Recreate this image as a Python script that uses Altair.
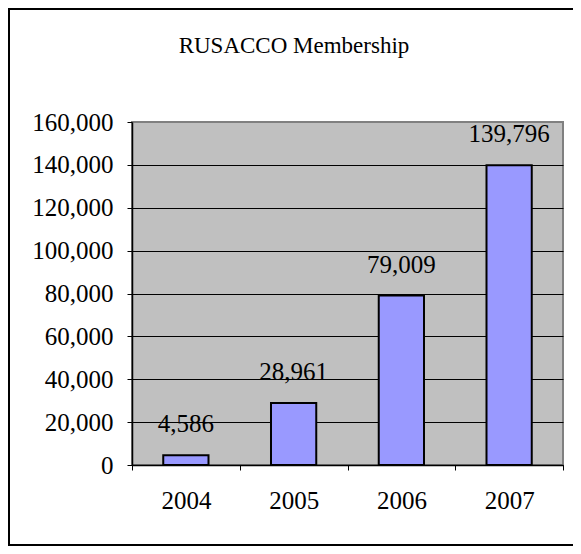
import altair as alt
import pandas as pd

years = ["2004", "2005", "2006", "2007"]
members = [4586, 28961, 79009, 139796]
y_ticks = [0, 20000, 40000, 60000, 80000, 100000, 120000, 140000, 160000]
title_text = ["RUSACCO Membership"]

df = pd.DataFrame({"year": years, "members": members})
FONT = "Liberation Serif"

x_enc = alt.X(
    "year:N",
    scale=alt.Scale(paddingInner=0, paddingOuter=0),
    axis=alt.Axis(
        title=None, labelAngle=0, tickBand="extent", grid=False,
        domainColor="black", domainWidth=1.5, tickColor="black", tickSize=5,
        labelFont=FONT, labelFontSize=25, labelColor="black",
        labelPadding=38, labelBaseline="alphabetic",
    ),
)
y_enc = alt.Y(
    "members:Q",
    scale=alt.Scale(domain=[0, 160000], nice=False),
    axis=alt.Axis(
        title=None, values=y_ticks, format=",d", grid=True,
        gridColor={"condition": {"test": "datum.value >= 160000", "value": "#808080"}, "value": "black"},
        gridWidth=1, domainColor="black", domainWidth=1.5, tickColor="black", tickSize=5,
        labelFont=FONT, labelFontSize=25, labelColor="black", labelPadding=14,
    ),
)

base = alt.Chart(df)
bars = base.mark_bar(
    width=alt.RelativeBandSize(0.42), fill="#9999FF", stroke="black", strokeWidth=2
).encode(x=x_enc, y=y_enc)

labels = base.mark_text(
    dy=-23, baseline="alphabetic", font=FONT, fontSize=25, color="black"
).encode(x=x_enc, y=y_enc, text=alt.Text("members:Q", format=","))

title = alt.Chart(alt.Data(values=[{"t": t} for t in title_text])).mark_text(
    font=FONT, fontSize=23, baseline="alphabetic", align="center", color="black"
).encode(x=alt.value(162), y=alt.value(-69), text="t:N")

one = alt.Data(values=[{"a": 1}])
frame_left = alt.Chart(one).mark_rule(color="black", strokeWidth=2).encode(
    x=alt.value(-123), y=alt.value(-114), y2=alt.value(424))
frame_top = alt.Chart(one).mark_rule(color="black", strokeWidth=2).encode(
    x=alt.value(-124), x2=alt.value(460), y=alt.value(-113))
frame_bottom = alt.Chart(one).mark_rule(color="black", strokeWidth=2).encode(
    x=alt.value(-124), x2=alt.value(460), y=alt.value(423))

chart = alt.layer(bars, labels, title, frame_left, frame_top, frame_bottom).properties(
    width=431, height=343,
    autosize=alt.AutoSizeParams(type="none"),
    padding={"left": 124, "top": 114, "right": 10, "bottom": 81},
    background="white",
).configure_view(fill="#C0C0C0", stroke="#808080", strokeWidth=2)

chart.save("out.html", embed_options={"renderer": "svg", "actions": False})
